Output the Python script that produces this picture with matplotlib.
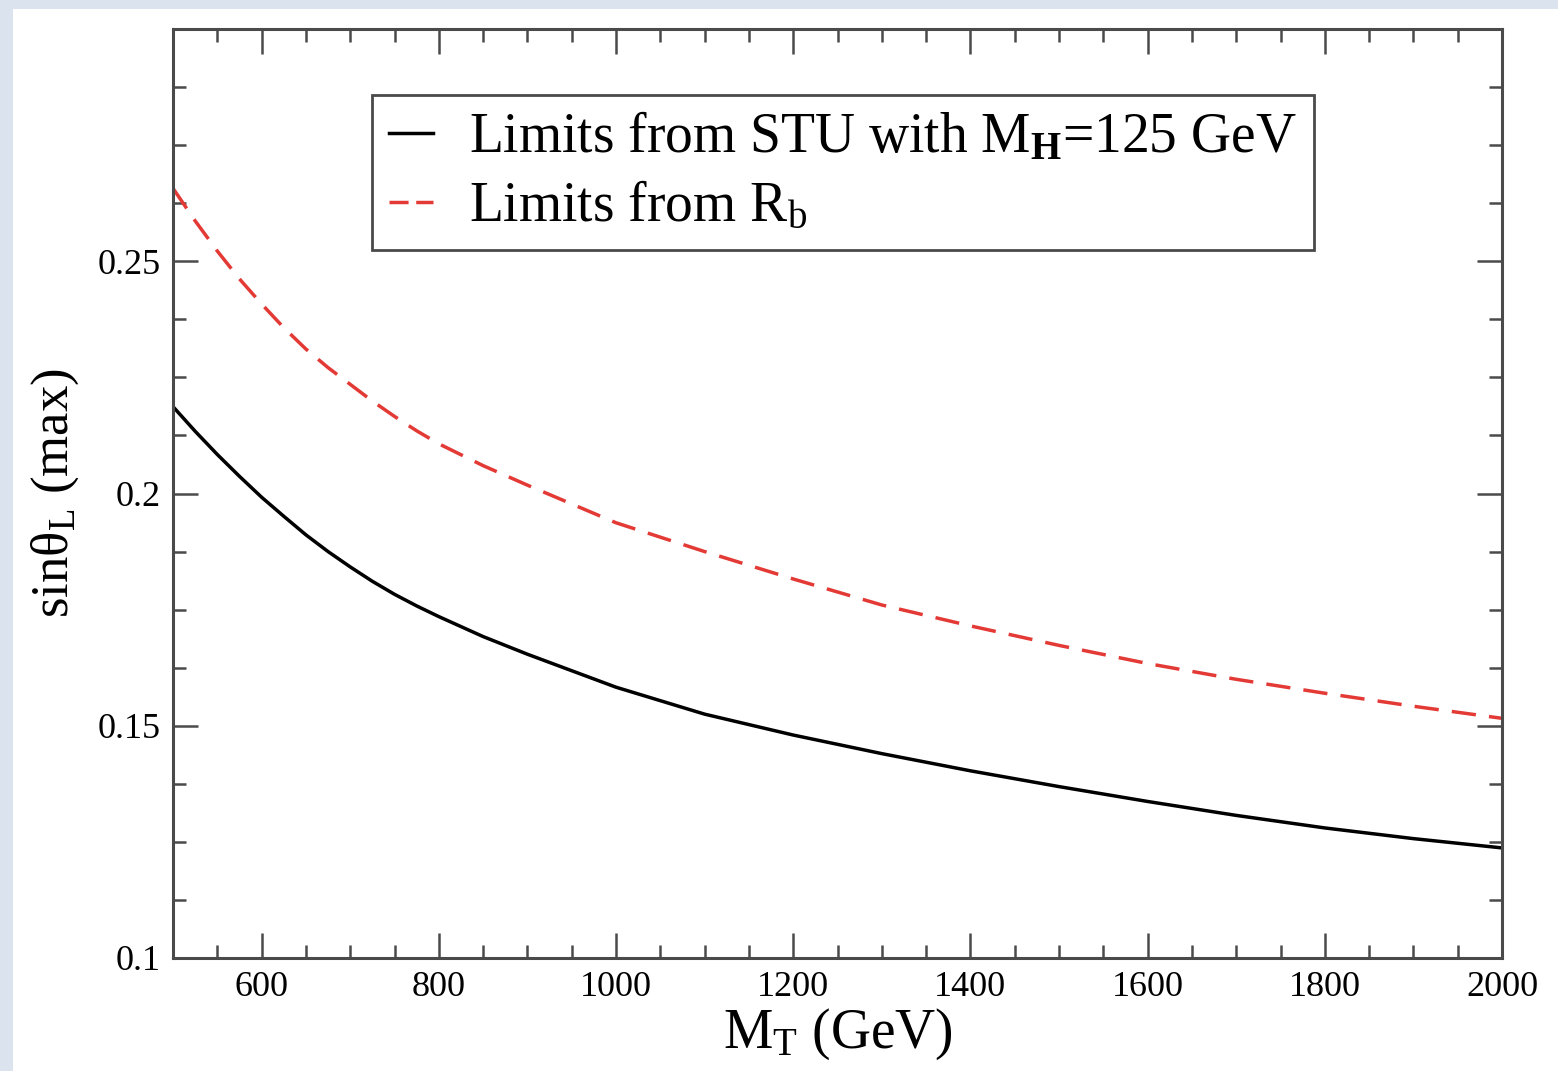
import numpy as np
import matplotlib
matplotlib.use("Agg")
import matplotlib.pyplot as plt
from matplotlib.ticker import MultipleLocator, FixedLocator, FixedFormatter
from matplotlib.patches import Rectangle

plt.rcParams['font.family'] = ['Liberation Serif', 'DejaVu Serif']
plt.rcParams['mathtext.fontset'] = 'custom'
plt.rcParams['mathtext.rm'] = 'Liberation Serif'
plt.rcParams['mathtext.it'] = 'Liberation Serif:italic'
plt.rcParams['mathtext.bf'] = 'Liberation Serif:bold'

# M_T (GeV)
m_t = [500, 525, 550, 575, 600, 625, 650, 675, 700, 725, 750, 775, 800,
       850, 900, 1000, 1100, 1200, 1300, 1400, 1500, 1600, 1700, 1800,
       1900, 2000]
# max sin(theta_L) from STU, M_H = 125 GeV
stu = [0.2187, 0.2134, 0.2084, 0.2037, 0.1992, 0.1951, 0.1911, 0.1875,
       0.1842, 0.1811, 0.1783, 0.1758, 0.1735,
       0.1692, 0.1654, 0.1583, 0.1525, 0.1480, 0.1440, 0.1403, 0.1369,
       0.1337, 0.1307, 0.1280, 0.1257, 0.1237]
# max sin(theta_L) from R_b
rb = [0.2657, 0.2587, 0.2522, 0.2462, 0.2408, 0.2357, 0.2311, 0.2271,
      0.2235, 0.2199, 0.2166, 0.2135, 0.2107,
      0.2060, 0.2018, 0.1937, 0.1875, 0.1816, 0.1760, 0.1715, 0.1673,
      0.1634, 0.1600, 0.1570, 0.1542, 0.1516]

xticks = [600, 800, 1000, 1200, 1400, 1600, 1800, 2000]
yticks = [0.1, 0.15, 0.2, 0.25]
ylabels = ['0.1', '0.15', '0.2', '0.25']

fig = plt.figure(figsize=(15.58, 10.71), dpi=100)
fig.patch.set_facecolor('#dbe4ee')
fig.patches.append(Rectangle((13 / 1558, 0), 1, 1 - 9 / 1071,
                             transform=fig.transFigure, facecolor='white',
                             edgecolor='none', zorder=-10))

ax = fig.add_axes([173 / 1558, 1 - 958 / 1071, 1329 / 1558, 929 / 1071])

ax.plot(m_t, stu, color='black', lw=2.5,
        label=r'Limits from STU with M$_{\mathbf{H}}$=125 GeV')
ax.plot(m_t, rb, color='#e33a36', lw=2.5, dashes=(7, 3.8),
        label=r'Limits from R$_{\mathrm{b}}$')

ax.set_xlim(500, 2000)
ax.set_ylim(0.1, 0.3)
ax.xaxis.set_major_locator(FixedLocator(xticks))
ax.xaxis.set_minor_locator(MultipleLocator(50))
ax.yaxis.set_major_locator(FixedLocator(yticks))
ax.yaxis.set_major_formatter(FixedFormatter(ylabels))
ax.yaxis.set_minor_locator(MultipleLocator(0.0125))

spine_col = '#4a4a4a'
for s in ax.spines.values():
    s.set_color(spine_col)
    s.set_linewidth(2.2)
ax.tick_params(which='both', direction='in', top=True, right=True,
               color=spine_col, width=1.8, labelsize=26)
ax.tick_params(which='major', length=18)
ax.tick_params(which='minor', length=9.5)
ax.tick_params(axis='x', pad=9)
ax.tick_params(axis='y', pad=9)

ax.set_xlabel(r'M$_{\mathrm{T}}$ (GeV)', fontsize=40, labelpad=2)
ax.set_ylabel(r'sinθ$_{\mathrm{L}}$ (max)', fontsize=38, labelpad=12)

leg = ax.legend(loc='upper left', bbox_to_anchor=(0.1497, 0.929),
                borderaxespad=0, fontsize=40, fancybox=False,
                handlelength=0.8, handletextpad=0.65, labelspacing=0.3,
                borderpad=0.3, framealpha=1)
leg.get_frame().set_edgecolor('#4a4a4a')
leg.get_frame().set_linewidth(2.0)
# shorter dashes in the legend key, two dashes like the original
leg.get_lines()[1].set_dashes((5.5, 2.2))

fig.savefig('out.png', dpi=100)
